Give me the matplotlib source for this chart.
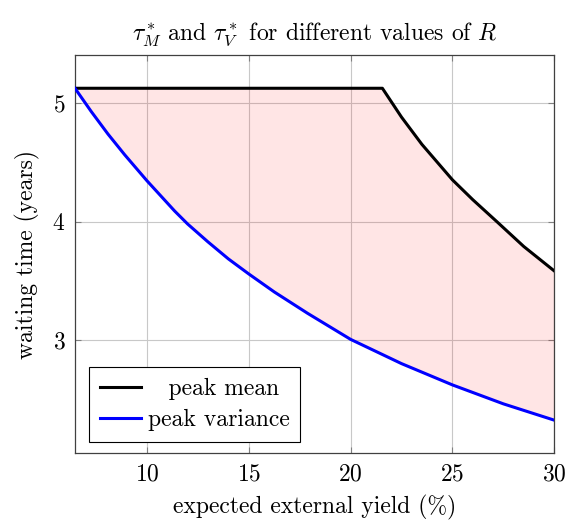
import numpy as np
import matplotlib
matplotlib.use("Agg")
import matplotlib.pyplot as plt

plt.rcParams['font.family'] = ['cmr10', 'DejaVu Serif']
plt.rcParams['mathtext.fontset'] = 'cm'
plt.rcParams['axes.unicode_minus'] = False
plt.rcParams['axes.formatter.use_mathtext'] = True

# data
mean_x = [6.47, 21.56, 22.5, 23.5, 25, 26, 27.21, 28.5, 30]
mean_y = [5.127, 5.127, 4.883, 4.653, 4.353, 4.185, 3.995, 3.79, 3.583]
var_x = [6.47, 7.27, 8.09, 8.91, 10, 11.36, 12, 12.99, 14, 15, 16.26, 17.89, 20,
         22.5, 25, 27.5, 30]
var_y = [5.127, 4.93, 4.74, 4.565, 4.346, 4.09, 3.98, 3.83, 3.685, 3.558, 3.405,
         3.225, 3.005, 2.80, 2.62, 2.46, 2.322]
x_ticks = [10, 15, 20, 25, 30]
y_ticks = [3, 4, 5]
labels = ["  \u2009peak mean", "peak variance"]

fig = plt.figure(figsize=(5.68, 5.24), dpi=100)
ax = fig.add_axes([0.1320, 0.1349, 0.9759 - 0.1320, 0.8950 - 0.1349])

fs = 17
ax.set_axisbelow(True)
ax.grid(True, color='#c8c8c8', lw=0.8)
poly_x = np.concatenate([mean_x, var_x[::-1]])
poly_y = np.concatenate([mean_y, var_y[::-1]])
ax.fill(poly_x, poly_y, color='red', alpha=0.1, lw=0, zorder=1.5)
ax.plot(mean_x, mean_y, color='black', lw=2.2, label=labels[0], zorder=3,
        solid_joinstyle='round')
ax.plot(var_x, var_y, color='blue', lw=2.2, label=labels[1], zorder=3,
        solid_joinstyle='round')

ax.set_xlim(6.47, 30)
ax.set_ylim(2.042, 5.408)
ax.set_xticks(x_ticks)
ax.set_yticks(y_ticks)
ax.tick_params(direction='in', length=4.5, width=0.8, color='#808080', top=True, right=True,
               labelsize=fs, pad=7)
for s in ax.spines.values():
    s.set_color('#404040')
    s.set_linewidth(0.9)

ax.set_xlabel('expected external yield (%)', fontsize=fs, labelpad=7)
ax.set_ylabel('waiting time (years)', fontsize=fs, labelpad=9)
ax.set_title(r'$\tau_M^*$ and $\tau_V^*$ for different values of $R$', fontsize=fs, pad=11)

leg = ax.legend(loc='lower left', bbox_to_anchor=(0.029, 0.029), borderaxespad=0,
                fontsize=fs, fancybox=False, edgecolor='black', framealpha=1,
                handlelength=1.75, handletextpad=0.3, labelspacing=0.38, borderpad=0.45)
leg.get_frame().set_linewidth(0.8)

fig.savefig('out.png', dpi=100)
